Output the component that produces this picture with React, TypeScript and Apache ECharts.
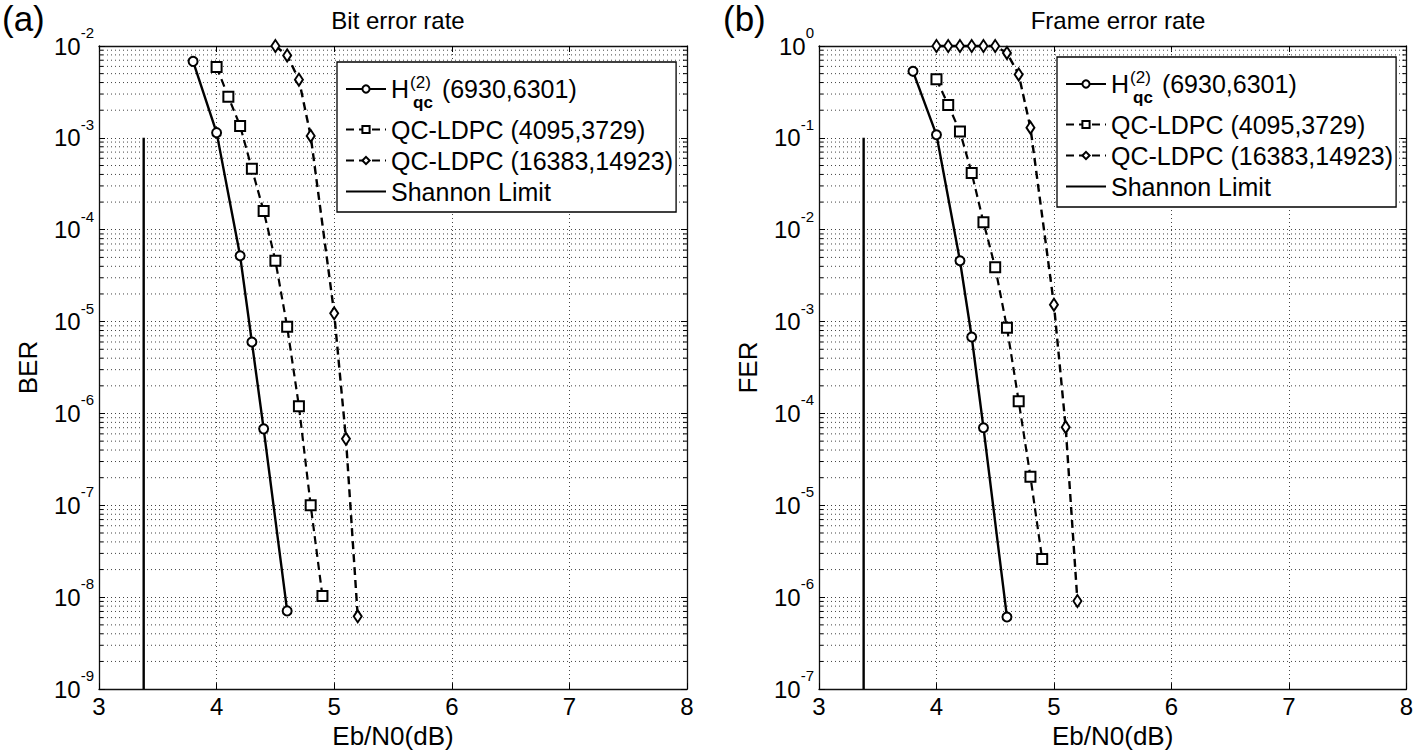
import React, { useEffect, useRef } from "react";
import * as echarts from "echarts";

const FONT = "Liberation Sans, Arial, sans-serif";
const X_MIN = 3;
const X_MAX = 8;
const X_INTERVAL = 1;

const H_NAME = "H(2)qc (6930,6301)";
const QC1_NAME = "QC-LDPC (4095,3729)";
const QC2_NAME = "QC-LDPC (16383,14923)";
const SHANNON_NAME = "Shannon Limit";

// (a) Bit error rate
const BER_MIN = 1e-9;
const BER_MAX = 1e-2;
const BER_H_X = [3.8, 4.0, 4.2, 4.3, 4.4, 4.6];
const BER_H_Y = [6.8e-3, 1.14e-3, 5.2e-5, 6.0e-6, 6.8e-7, 7.1e-9];
const BER_QC1_X = [4.0, 4.1, 4.2, 4.3, 4.4, 4.5, 4.6, 4.7, 4.8, 4.9];
const BER_QC1_Y = [5.9e-3, 2.8e-3, 1.35e-3, 4.6e-4, 1.6e-4, 4.6e-5, 8.8e-6, 1.2e-6, 1.0e-7, 1.03e-8];
const BER_QC2_X = [4.5, 4.6, 4.7, 4.8, 5.0, 5.1, 5.2];
const BER_QC2_Y = [1.0e-2, 7.9e-3, 4.3e-3, 1.05e-3, 1.23e-5, 5.3e-7, 6.2e-9];
const BER_SHANNON_X = [3.38, 3.38];
const BER_SHANNON_Y = [1e-3, 1e-9];
const BER_DECADES = [-9, -8, -7, -6, -5, -4, -3];

// (b) Frame error rate
const FER_MIN = 1e-7;
const FER_MAX = 1;
const FER_H_X = [3.8, 4.0, 4.2, 4.3, 4.4, 4.6];
const FER_H_Y = [0.53, 0.108, 4.6e-3, 6.8e-4, 7.0e-5, 6.1e-7];
const FER_QC1_X = [4.0, 4.1, 4.2, 4.3, 4.4, 4.5, 4.6, 4.7, 4.8, 4.9];
const FER_QC1_Y = [0.435, 0.228, 0.117, 0.0414, 0.0121, 3.9e-3, 8.6e-4, 1.36e-4, 2.05e-5, 2.6e-6];
const FER_QC2_X = [4.0, 4.1, 4.2, 4.3, 4.4, 4.5, 4.6, 4.7, 4.8, 5.0, 5.1, 5.2];
const FER_QC2_Y = [1, 1, 1, 1, 1, 1, 0.84, 0.49, 0.129, 1.53e-3, 7.1e-5, 9.1e-7];
const FER_SHANNON_X = [3.38, 3.38];
const FER_SHANNON_Y = [1e-1, 1e-7];
const FER_DECADES = [-7, -6, -5, -4, -3, -2, -1];

const MINOR_MANTISSAS = [2, 3, 4, 5, 6, 7, 8, 9];

const zip = (xs: number[], ys: number[]) => xs.map((x, i) => [x, ys[i]]);
const minorValues = (decades: number[]) => {
  const out: number[][] = [];
  decades.forEach((e) => MINOR_MANTISSAS.forEach((m) => out.push([X_MIN, m * Math.pow(10, e)])));
  return out;
};

const GRID_COLOR = "#444";
const DOT: number[] = [1, 3];

function buildAxes(gridIndex: number, yMin: number, yMax: number, yName: string) {
  const xBottom = {
    type: "value",
    gridIndex,
    min: X_MIN,
    max: X_MAX,
    interval: X_INTERVAL,
    position: "bottom",
    name: "Eb/N0(dB)",
    nameLocation: "middle",
    nameGap: 32,
    nameTextStyle: { fontFamily: FONT, fontSize: 26, color: "#000" },
    axisLine: { show: true, onZero: false, lineStyle: { color: "#111", width: 1.3 } },
    axisTick: { show: true, inside: true, length: 6, lineStyle: { color: "#000" } },
    axisLabel: { fontFamily: FONT, fontSize: 24, color: "#000", margin: 5 },
    splitLine: { show: true, lineStyle: { color: GRID_COLOR, type: DOT, width: 1 } },
  };
  const xTop = {
    type: "value",
    gridIndex,
    min: X_MIN,
    max: X_MAX,
    interval: X_INTERVAL,
    position: "top",
    axisLine: { show: true, onZero: false, lineStyle: { color: "#111", width: 1.3 } },
    axisTick: { show: true, inside: true, length: 6, lineStyle: { color: "#000" } },
    axisLabel: { show: false },
    splitLine: { show: false },
  };
  const yLeft = {
    type: "log",
    logBase: 10,
    gridIndex,
    min: yMin,
    max: yMax,
    splitNumber: 7,
    position: "left",
    name: yName,
    nameLocation: "middle",
    nameGap: 58,
    nameTextStyle: { fontFamily: FONT, fontSize: 26, color: "#000" },
    axisLine: { show: true, onZero: false, lineStyle: { color: "#111", width: 1.3 } },
    axisTick: { show: true, inside: true, length: 6, lineStyle: { color: "#000" } },
    axisLabel: {
      margin: 5,
      formatter: (v: number) => `{b|10}{s|${Math.round(Math.log10(v))}}`,
      rich: {
        b: { fontFamily: FONT, fontSize: 24, color: "#000", verticalAlign: "middle" },
        s: { fontFamily: FONT, fontSize: 15, color: "#000", verticalAlign: "top", lineHeight: 42 },
      },
    },
    splitLine: { show: true, lineStyle: { color: GRID_COLOR, type: DOT, width: 1 } },
  };
  const yRight = {
    type: "log",
    logBase: 10,
    gridIndex,
    min: yMin,
    max: yMax,
    splitNumber: 7,
    position: "right",
    axisLine: { show: true, onZero: false, lineStyle: { color: "#111", width: 1.3 } },
    axisTick: { show: true, inside: true, length: 6, lineStyle: { color: "#000" } },
    axisLabel: { show: false },
    splitLine: { show: false },
  };
  return { x: [xBottom, xTop], y: [yLeft, yRight] };
}

function buildSeries(
  axisIndex: number,
  h: number[][],
  qc1: number[][],
  qc2: number[][],
  shannon: number[][],
  minors: number[][]
) {
  const common = {
    type: "line",
    xAxisIndex: axisIndex,
    yAxisIndex: axisIndex,
    clip: false,
    z: 3,
    emphasis: { disabled: true },
  };
  return [
    {
      type: "custom",
      xAxisIndex: axisIndex,
      yAxisIndex: axisIndex,
      silent: true,
      clip: false,
      z: 1,
      data: minors,
      encode: { x: 0, y: 1 },
      renderItem: (params: any, api: any) => {
        const v = api.value(1);
        const p0 = api.coord([X_MIN, v]);
        const p1 = api.coord([X_MAX, v]);
        return {
          type: "group",
          children: [
            {
              type: "line",
              shape: { x1: p0[0], y1: p0[1], x2: p1[0], y2: p1[1] },
              style: { stroke: GRID_COLOR, lineWidth: 1, lineDash: DOT },
            },
            {
              type: "line",
              shape: { x1: p0[0], y1: p0[1], x2: p0[0] + 4, y2: p0[1] },
              style: { stroke: "#000", lineWidth: 1 },
            },
            {
              type: "line",
              shape: { x1: p1[0] - 4, y1: p1[1], x2: p1[0], y2: p1[1] },
              style: { stroke: "#000", lineWidth: 1 },
            },
          ],
        };
      },
    },
    {
      ...common,
      name: H_NAME,
      data: h,
      symbol: "emptyCircle",
      symbolSize: 9,
      itemStyle: { color: "#000", borderWidth: 1.4 },
      lineStyle: { color: "#000", width: 2.4, type: "solid" },
    },
    {
      ...common,
      name: QC1_NAME,
      data: qc1,
      symbol: "emptyRect",
      symbolSize: 10,
      itemStyle: { color: "#000", borderWidth: 1.6 },
      lineStyle: { color: "#000", width: 2.2, type: [8, 5] },
    },
    {
      ...common,
      name: QC2_NAME,
      data: qc2,
      symbol: "emptyDiamond",
      symbolSize: [8, 12],
      itemStyle: { color: "#000", borderWidth: 1.4 },
      lineStyle: { color: "#000", width: 2.4, type: [8, 5] },
    },
    {
      ...common,
      name: SHANNON_NAME,
      data: shannon,
      symbol: "circle",
      showSymbol: false,
      itemStyle: { color: "transparent", borderWidth: 0 },
      lineStyle: { color: "#000", width: 2.4, type: "solid" },
    },
  ];
}

function buildLegend(left: number, top: number) {
  return {
    orient: "vertical",
    left,
    top,
    selectedMode: false,
    data: [H_NAME, QC1_NAME, QC2_NAME, SHANNON_NAME],
    itemWidth: 40,
    itemHeight: 9,
    itemGap: 6,
    padding: [5, 3, 8, 8],
    borderColor: "#000",
    borderWidth: 1.3,
    backgroundColor: "#fff",
    formatter: (name: string) =>
      name === H_NAME ? "{h|H}{sup|(2)}{sub|qc}{t|(6930,6301)}" : `{t|${name}}`,
    textStyle: {
      fontFamily: FONT,
      fontSize: 25,
      color: "#000",
      rich: {
        t: { fontFamily: FONT, fontSize: 25, color: "#000" },
        h: { fontFamily: FONT, fontSize: 25, color: "#000", verticalAlign: "middle" },
        sup: {
          fontFamily: FONT,
          fontSize: 17,
          color: "#000",
          verticalAlign: "top",
          lineHeight: 44,
          padding: [7, 0, 0, 1],
          width: 2,
        },
        sub: {
          fontFamily: FONT,
          fontSize: 17,
          fontWeight: "bold",
          color: "#000",
          verticalAlign: "bottom",
          padding: [0, 9, 0, 1],
        },
      },
    },
  };
}

export default function App() {
  const ref = useRef<HTMLDivElement>(null);
  useEffect(() => {
    if (!ref.current) return;
    const chart = echarts.init(ref.current, undefined, { renderer: "svg" });
    const a = buildAxes(0, BER_MIN, BER_MAX, "BER");
    const b = buildAxes(1, FER_MIN, FER_MAX, "FER");
    const titleStyle = { fontFamily: FONT, fontWeight: "normal", color: "#000" };
    const option: any = {
      animation: false,
      backgroundColor: "#fff",
      title: [
        { text: "(a)", left: -3, top: -4, textStyle: { ...titleStyle, fontSize: 35 } },
        { text: "(b)", left: 718, top: -4, textStyle: { ...titleStyle, fontSize: 35 } },
        { text: "Bit error rate", left: 393, textAlign: "center", top: 3, textStyle: { ...titleStyle, fontSize: 24 } },
        { text: "Frame error rate", left: 1113, textAlign: "center", top: 3, textStyle: { ...titleStyle, fontSize: 24 } },
      ],
      grid: [
        { left: 99, top: 46, width: 588, height: 647, show: true, backgroundColor: "#fff", borderWidth: 0 },
        { left: 819, top: 46, width: 588, height: 647, show: true, backgroundColor: "#fff", borderWidth: 0 },
      ],
      xAxis: [...a.x, ...b.x],
      yAxis: [...a.y, ...b.y],
      legend: [buildLegend(337, 62), buildLegend(1057, 57)],
      series: [
        ...buildSeries(
          0,
          zip(BER_H_X, BER_H_Y),
          zip(BER_QC1_X, BER_QC1_Y),
          zip(BER_QC2_X, BER_QC2_Y),
          zip(BER_SHANNON_X, BER_SHANNON_Y),
          minorValues(BER_DECADES)
        ),
        ...buildSeries(
          2,
          zip(FER_H_X, FER_H_Y),
          zip(FER_QC1_X, FER_QC1_Y),
          zip(FER_QC2_X, FER_QC2_Y),
          zip(FER_SHANNON_X, FER_SHANNON_Y),
          minorValues(FER_DECADES)
        ),
      ],
    };
    chart.setOption(option);
    return () => chart.dispose();
  }, []);
  return (
    <div
      ref={ref}
      style={{ position: "fixed", left: 0, top: 0, width: 1416, height: 754, background: "#fff" }}
    />
  );
}
